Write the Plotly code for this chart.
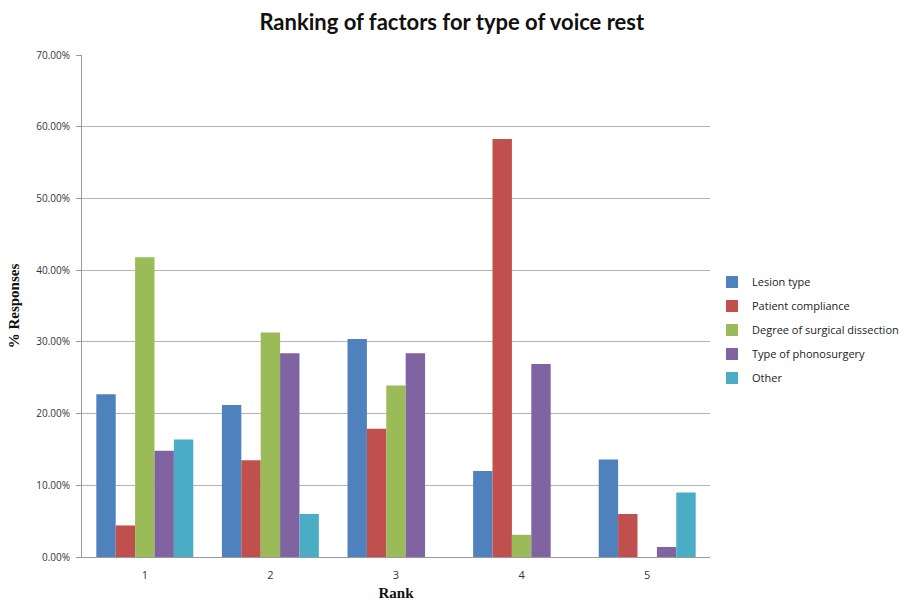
import plotly.graph_objects as go

# Rank positions on the x axis
ranks = ["1", "2", "3", "4", "5"]

# Percentage of responses per factor at each rank
lesion_type = [22.7, 21.2, 30.4, 12.0, 13.6]
patient_compliance = [4.4, 13.5, 17.9, 58.3, 6.0]
surgical_dissection = [41.8, 31.3, 23.9, 3.1, 0.0]
phonosurgery_type = [14.8, 28.4, 28.4, 26.9, 1.4]
other = [16.4, 6.0, 0.0, 0.0, 9.0]

series_names = [
    "Lesion type",
    "Patient compliance",
    "Degree of surgical dissection",
    "Type of phonosurgery",
    "Other",
]
series_values = [lesion_type, patient_compliance, surgical_dissection, phonosurgery_type, other]
series_colors = ["#4F81BD", "#C0504D", "#9BBB59", "#8064A2", "#4BACC6"]

y_ticks = [0, 10, 20, 30, 40, 50, 60, 70]

fig = go.Figure()
for name, vals, col in zip(series_names, series_values, series_colors):
    fig.add_trace(go.Bar(
        x=ranks, y=vals, name=name, legendgroup=name,
        marker=dict(color=col, line=dict(width=0)),
    ))

fig.update_layout(
    width=900, height=601,
    margin=dict(l=82, r=190, t=55, b=44, autoexpand=False),
    paper_bgcolor="white", plot_bgcolor="white",
    barmode="group", bargap=0.228, bargroupgap=0,
    title=dict(
        text="<b>Ranking of factors for type of voice rest</b>",
        x=0.502, xanchor="center", y=0.963, yanchor="middle",
        font=dict(family="Lato, Open Sans, sans-serif", size=22, color="#111111"),
    ),
    legend=dict(
        xref="container", x=712 / 900, xanchor="left",
        y=0.452, yanchor="middle",
        font=dict(family="Open Sans, sans-serif", size=11, color="#222222"),
        tracegroupgap=5, itemwidth=30,
        bgcolor="rgba(0,0,0,0)",
    ),
    font=dict(family="Open Sans, sans-serif"),
)

fig.update_xaxes(
    type="category", showgrid=False, ticks="", showline=True,
    linecolor="#9a9a9a", linewidth=1, ticklabelstandoff=8,
    tickfont=dict(family="Open Sans, sans-serif", size=11, color="#333333"),
    title=dict(text="<b>Rank</b>", standoff=10,
               font=dict(family="Liberation Serif, Times New Roman, serif", size=15, color="#111111")),
)
fig.update_yaxes(
    range=[0, 70], tickvals=y_ticks,
    ticktext=[f"{v:.2f}%" for v in y_ticks],
    showgrid=True, gridcolor="#b4b4b4", gridwidth=1,
    showline=True, linecolor="#9a9a9a", linewidth=1,
    ticks="outside", ticklen=5, tickcolor="#9a9a9a", ticklabelstandoff=4,
    zeroline=False,
    tickfont=dict(family="Open Sans, sans-serif", size=10, color="#333333"),
    title=dict(text="<b>% Responses</b>", standoff=12,
               font=dict(family="Liberation Serif, Times New Roman, serif", size=15, color="#111111")),
)

fig.write_html("out.html")
